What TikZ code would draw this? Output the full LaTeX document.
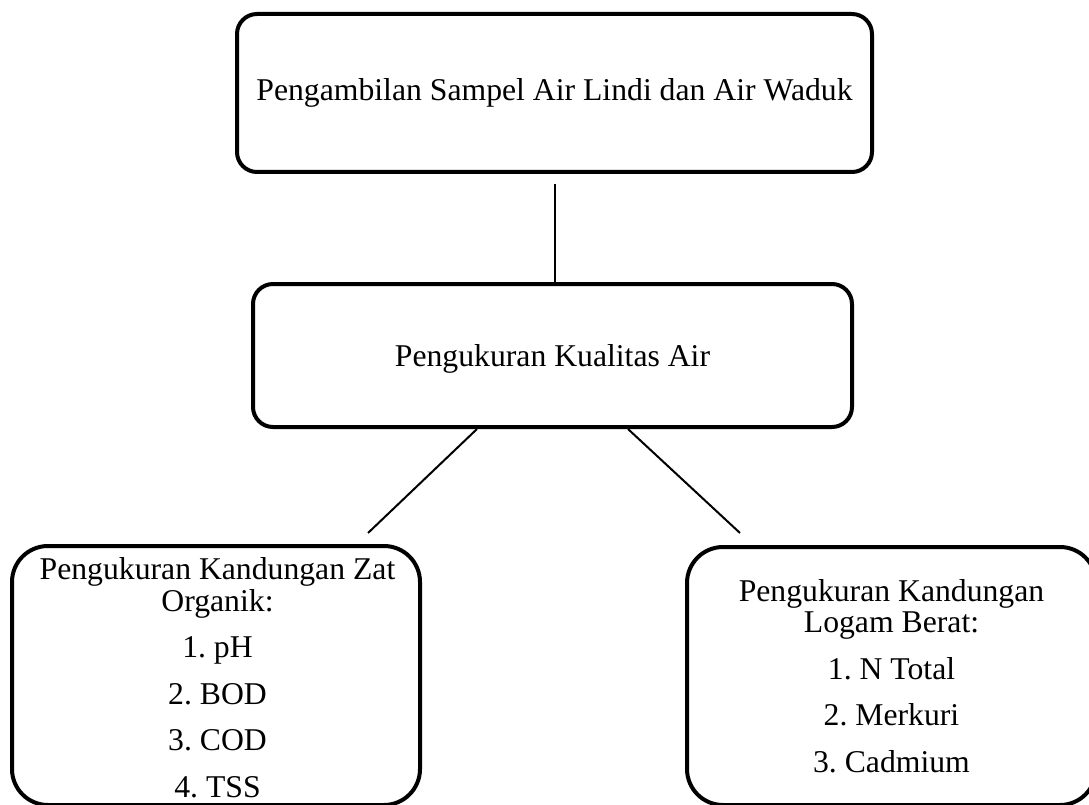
\documentclass[tikz,border=0pt]{standalone}
\usepackage{fontspec}
\setmainfont{Liberation Serif}
\frenchspacing
\begin{document}
\begin{tikzpicture}[x=1pt,y=-1pt,
  box/.style={draw=black, line width=4pt, rounded corners=20pt, inner sep=0pt},
  bigbox/.style={box, rounded corners=36pt},
  conn/.style={draw=black, line width=2pt},
  txt/.style={align=center, inner sep=0pt, font=\fontsize{31.7}{31.5}\selectfont\frenchspacing}]
\useasboundingbox (0,0) rectangle (1089,805);
\clip (0,0) rectangle (1089,805);
\fill[white] (0,0) rectangle (1089,805);

% boxes
\node[box, minimum width=635pt, minimum height=158pt] (top) at (554.5,93) {};
\node[txt] (toptext) at ([yshift=0.35pt]top.center) {Pengambilan Sampel Air Lindi dan Air Waduk};

\node[box, minimum width=599pt, minimum height=143pt] (mid) at (552.5,355.5) {};
\node[txt] (midtext) at ([yshift=-3.15pt]mid.center) {Pengukuran Kualitas Air};

\node[bigbox, minimum width=408pt, minimum height=259pt] (left) at (216,675.5) {};
\node[txt] (lefttext) at ([xshift=1.5pt,yshift=-2.2pt]left.center)
  {Pengukuran Kandungan Zat\\Organik:\\[15pt]1. pH\\[15pt]2. BOD\\[15pt]3. COD\\[15pt]4. TSS};

\node[bigbox, minimum width=409pt, minimum height=258pt] (right) at (891.5,676) {};
\node[txt] (righttext) at ([yshift=-0.2pt]right.center)
  {Pengukuran Kandungan\\Logam Berat:\\[15pt]1. N Total\\[15pt]2. Merkuri\\[15pt]3. Cadmium};

% connectors
\coordinate (lend) at (368,533);
\coordinate (rend) at (740,533);
\draw[conn] ([yshift=-10pt]top.south) -- (top.south |- mid.north);
\draw[conn] ([xshift=-75.5pt]mid.south) -- (lend);
\draw[conn] ([xshift=75.5pt]mid.south) -- (rend);
\end{tikzpicture}
\end{document}
